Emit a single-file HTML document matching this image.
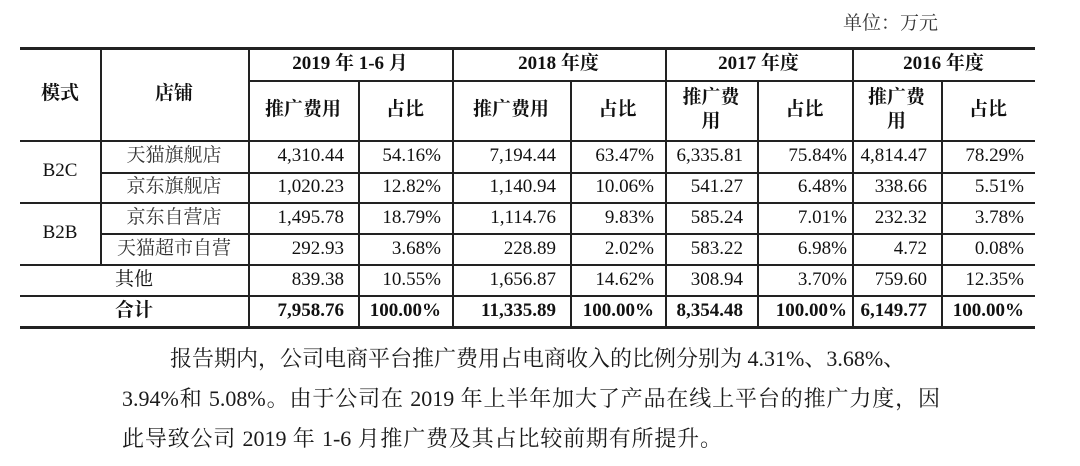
<!DOCTYPE html>
<html><head><meta charset="utf-8">
<style>
body{margin:0;width:1080px;height:466px;background:#fff;position:relative;overflow:hidden;font-family:"Liberation Serif","Noto Serif CJK SC",serif;color:#111}
.h{position:absolute;background:#222;height:1.5px}
.v{position:absolute;background:#222;width:1.5px}
.c{position:absolute;display:flex;align-items:center;justify-content:center;font-size:19px;box-sizing:border-box;line-height:1.25;text-align:center}
.r{justify-content:flex-end;padding-right:14px}
.b{font-weight:bold}
.p{position:absolute;font-size:22px;white-space:nowrap;text-align:justify;text-align-last:justify;text-justify:inter-character;color:#1a1a1a}
</style></head><body>
<div class="c" style="left:843px;top:10px;font-size:19px;color:#333;height:28px">单位：万元</div>

<div class="h" style="left:20px;width:1015px;top:47px;height:2.5px"></div>
<div class="h" style="left:248px;width:787px;top:80px"></div>
<div class="h" style="left:20px;width:1015px;top:140px"></div>
<div class="h" style="left:100px;width:935px;top:172px"></div>
<div class="h" style="left:20px;width:1015px;top:202px"></div>
<div class="h" style="left:100px;width:935px;top:233px"></div>
<div class="h" style="left:20px;width:1015px;top:264px"></div>
<div class="h" style="left:20px;width:1015px;top:295px"></div>
<div class="h" style="left:20px;width:1015px;top:326px;height:2.5px"></div>
<div class="v" style="left:100px;top:48px;height:216px"></div>
<div class="v" style="left:248px;top:48px;height:280px"></div>
<div class="v" style="left:358px;top:80px;height:248px"></div>
<div class="v" style="left:452px;top:48px;height:280px"></div>
<div class="v" style="left:570px;top:80px;height:248px"></div>
<div class="v" style="left:665px;top:48px;height:280px"></div>
<div class="v" style="left:757px;top:80px;height:248px"></div>
<div class="v" style="left:852px;top:48px;height:280px"></div>
<div class="v" style="left:941px;top:80px;height:248px"></div>

<div class="c b" style="left:20px;top:48px;width:80px;height:92px">模式</div>
<div class="c b" style="left:100px;top:48px;width:148px;height:92px">店铺</div>
<div class="c b" style="left:248px;top:48px;width:204px;height:32px">2019 年 1-6 月</div>
<div class="c b" style="left:452px;top:48px;width:213px;height:32px">2018 年度</div>
<div class="c b" style="left:665px;top:48px;width:187px;height:32px">2017 年度</div>
<div class="c b" style="left:852px;top:48px;width:183px;height:32px">2016 年度</div>
<div class="c b" style="left:248px;top:80px;width:110px;height:60px">推广费用</div>
<div class="c b" style="left:358px;top:80px;width:94px;height:60px">占比</div>
<div class="c b" style="left:452px;top:80px;width:118px;height:60px">推广费用</div>
<div class="c b" style="left:570px;top:80px;width:95px;height:60px">占比</div>
<div class="c b" style="left:665px;top:80px;width:92px;height:60px">推广费<br>用</div>
<div class="c b" style="left:757px;top:80px;width:95px;height:60px">占比</div>
<div class="c b" style="left:852px;top:80px;width:89px;height:60px">推广费<br>用</div>
<div class="c b" style="left:941px;top:80px;width:94px;height:60px">占比</div>

<div class="c" style="left:20px;top:140px;width:80px;height:62px">B2C</div>
<div class="c" style="left:20px;top:202px;width:80px;height:62px">B2B</div>
<div class="c" style="left:100px;top:140px;width:148px;height:32px;color:#333">天猫旗舰店</div>
<div class="c" style="left:100px;top:172px;width:148px;height:30px;color:#333">京东旗舰店</div>
<div class="c" style="left:100px;top:202px;width:148px;height:31px;color:#333">京东自营店</div>
<div class="c" style="left:100px;top:233px;width:148px;height:31px;color:#333">天猫超市自营</div>
<div class="c" style="left:115px;top:264px;width:60px;height:31px;justify-content:flex-start">其他</div>
<div class="c b" style="left:115px;top:295px;width:60px;height:32px;justify-content:flex-start">合计</div>

<div class="c r" style="left:248px;top:140px;width:110px;height:32px">4,310.44</div>
<div class="c r" style="left:358px;top:140px;width:94px;height:32px;padding-right:11px">54.16%</div>
<div class="c r" style="left:452px;top:140px;width:118px;height:32px">7,194.44</div>
<div class="c r" style="left:570px;top:140px;width:95px;height:32px;padding-right:11px">63.47%</div>
<div class="c r" style="left:665px;top:140px;width:92px;height:32px">6,335.81</div>
<div class="c r" style="left:757px;top:140px;width:95px;height:32px;padding-right:5px">75.84%</div>
<div class="c r" style="left:852px;top:140px;width:89px;height:32px">4,814.47</div>
<div class="c r" style="left:941px;top:140px;width:94px;height:32px;padding-right:11px">78.29%</div>

<div class="c r" style="left:248px;top:172px;width:110px;height:30px">1,020.23</div>
<div class="c r" style="left:358px;top:172px;width:94px;height:30px;padding-right:11px">12.82%</div>
<div class="c r" style="left:452px;top:172px;width:118px;height:30px">1,140.94</div>
<div class="c r" style="left:570px;top:172px;width:95px;height:30px;padding-right:11px">10.06%</div>
<div class="c r" style="left:665px;top:172px;width:92px;height:30px">541.27</div>
<div class="c r" style="left:757px;top:172px;width:95px;height:30px;padding-right:5px">6.48%</div>
<div class="c r" style="left:852px;top:172px;width:89px;height:30px">338.66</div>
<div class="c r" style="left:941px;top:172px;width:94px;height:30px;padding-right:11px">5.51%</div>

<div class="c r" style="left:248px;top:202px;width:110px;height:31px">1,495.78</div>
<div class="c r" style="left:358px;top:202px;width:94px;height:31px;padding-right:11px">18.79%</div>
<div class="c r" style="left:452px;top:202px;width:118px;height:31px">1,114.76</div>
<div class="c r" style="left:570px;top:202px;width:95px;height:31px;padding-right:11px">9.83%</div>
<div class="c r" style="left:665px;top:202px;width:92px;height:31px">585.24</div>
<div class="c r" style="left:757px;top:202px;width:95px;height:31px;padding-right:5px">7.01%</div>
<div class="c r" style="left:852px;top:202px;width:89px;height:31px">232.32</div>
<div class="c r" style="left:941px;top:202px;width:94px;height:31px;padding-right:11px">3.78%</div>

<div class="c r" style="left:248px;top:233px;width:110px;height:31px">292.93</div>
<div class="c r" style="left:358px;top:233px;width:94px;height:31px;padding-right:11px">3.68%</div>
<div class="c r" style="left:452px;top:233px;width:118px;height:31px">228.89</div>
<div class="c r" style="left:570px;top:233px;width:95px;height:31px;padding-right:11px">2.02%</div>
<div class="c r" style="left:665px;top:233px;width:92px;height:31px">583.22</div>
<div class="c r" style="left:757px;top:233px;width:95px;height:31px;padding-right:5px">6.98%</div>
<div class="c r" style="left:852px;top:233px;width:89px;height:31px">4.72</div>
<div class="c r" style="left:941px;top:233px;width:94px;height:31px;padding-right:11px">0.08%</div>

<div class="c r" style="left:248px;top:264px;width:110px;height:31px">839.38</div>
<div class="c r" style="left:358px;top:264px;width:94px;height:31px;padding-right:11px">10.55%</div>
<div class="c r" style="left:452px;top:264px;width:118px;height:31px">1,656.87</div>
<div class="c r" style="left:570px;top:264px;width:95px;height:31px;padding-right:11px">14.62%</div>
<div class="c r" style="left:665px;top:264px;width:92px;height:31px">308.94</div>
<div class="c r" style="left:757px;top:264px;width:95px;height:31px;padding-right:5px">3.70%</div>
<div class="c r" style="left:852px;top:264px;width:89px;height:31px">759.60</div>
<div class="c r" style="left:941px;top:264px;width:94px;height:31px;padding-right:11px">12.35%</div>

<div class="c r b" style="left:248px;top:295px;width:110px;height:32px">7,958.76</div>
<div class="c r b" style="left:358px;top:295px;width:94px;height:32px;padding-right:11px">100.00%</div>
<div class="c r b" style="left:452px;top:295px;width:118px;height:32px">11,335.89</div>
<div class="c r b" style="left:570px;top:295px;width:95px;height:32px;padding-right:11px">100.00%</div>
<div class="c r b" style="left:665px;top:295px;width:92px;height:32px">8,354.48</div>
<div class="c r b" style="left:757px;top:295px;width:95px;height:32px;padding-right:5px">100.00%</div>
<div class="c r b" style="left:852px;top:295px;width:89px;height:32px">6,149.77</div>
<div class="c r b" style="left:941px;top:295px;width:94px;height:32px;padding-right:11px">100.00%</div>

<div class="p" style="left:170px;top:342px;width:690px">报告期内，公司电商平台推广费用占电商收入的比例分别为 4.31%、3.68%、</div>
<div class="p" style="left:122px;top:382px;width:818px">3.94%和 5.08%。由于公司在 2019 年上半年加大了产品在线上平台的推广力度，因</div>
<div class="p" style="left:122px;top:422px;width:600px">此导致公司 2019 年 1-6 月推广费及其占比较前期有所提升。</div>
</body></html>
